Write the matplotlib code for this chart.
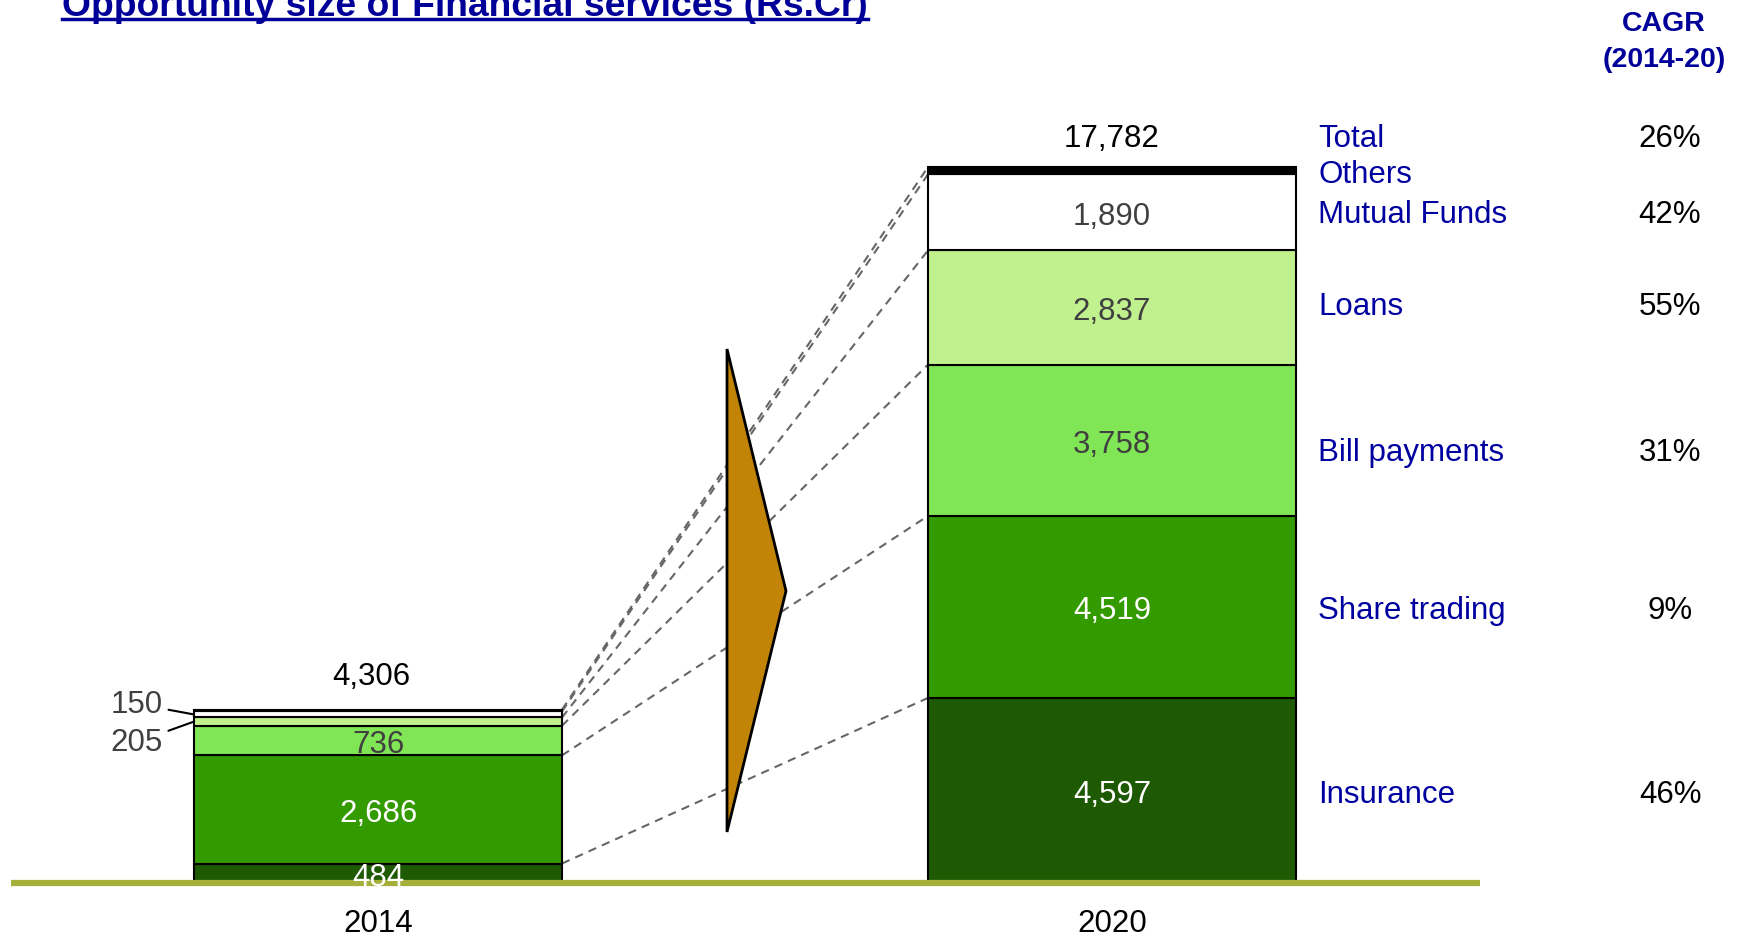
import matplotlib
matplotlib.use("Agg")
import matplotlib.pyplot as plt
import numpy as np
from matplotlib.patches import Polygon
from matplotlib.lines import Line2D

years = ["2014", "2020"]
segments = ["Insurance", "Share trading", "Bill payments", "Loans", "Mutual Funds", "Others"]
values_2014 = [484, 2686, 736, 205, 150, 45]
values_2020 = [4597, 4519, 3758, 2837, 1890, 181]
cagr = ["46%", "9%", "31%", "55%", "42%", ""]
total_cagr = "26%"

colors = ["#1E5904", "#339A00", "#80E655", "#C1F18E", "#FFFFFF", "#000000"]
label_colors = ["white", "white", "#404040", "#404040", "#404040", None]

plt.rcParams["font.family"] = ["Liberation Sans", "DejaVu Sans"]
FS = 22.5
BLUE = "#0000A0"

W, H = 1739, 937
fig = plt.figure(figsize=(W / 100, H / 100), dpi=100)
ax = fig.add_axes([0, 0, 1, 1])
ax.axis("off")

# layout: pixel geometry of the slide
base_px = 884
unit_per_px = 24.835
bar_gap_px = 734
x0_px = 378
ax.set_xlim(-x0_px / bar_gap_px, (W - x0_px) / bar_gap_px)
ax.set_ylim(-(H - base_px) * unit_per_px, base_px * unit_per_px)
width = 368 / bar_gap_px


def dx(px):
    return (px - x0_px) / bar_gap_px


def dy(py):
    return (base_px - py) * unit_per_px


xs = [0, 1]
data = [values_2014, values_2020]
cums = [np.cumsum(v) for v in data]

for x, vals in zip(xs, data):
    bottom = 0
    for v, c in zip(vals, colors):
        ax.bar(x, v, width, bottom=bottom, color=c, edgecolor="black", linewidth=1.5, zorder=3)
        bottom += v

# connector lines between stacks
for c14, c20 in zip(cums[0], cums[1]):
    ax.plot([xs[0] + width / 2, xs[1] - width / 2], [c14, c20], color="#666666",
            lw=1.5, ls=(0, (4, 3)), zorder=2)

# segment value labels
for x, vals, cum in zip(xs, data, cums):
    for i, v in enumerate(vals):
        mid = cum[i] - v / 2
        if label_colors[i] is None:
            continue
        if x == 0 and i in (3, 4):
            continue
        ax.text(x, mid, f"{v:,}", ha="center", va="center_baseline", fontsize=FS,
                color=label_colors[i], zorder=6)

# small 2014 segments labelled outside with leader lines
left_edge = xs[0] - width / 2
for i, off in ((4, (-31, 14)), (3, (-31, -17))):
    mid = cums[0][i] - values_2014[i] / 2
    ax.annotate(f"{values_2014[i]:,}", (left_edge, mid), xytext=off, textcoords="offset pixels",
                ha="right", va="center_baseline", fontsize=FS, color="#404040",
                arrowprops=dict(arrowstyle="-", color="black", lw=1.5, shrinkA=2, shrinkB=0))

# totals
for x, cum, off in zip(xs, cums, [(-7, 37), (0, 32)]):
    ax.annotate(f"{int(cum[-1]):,}", (x, cum[-1]), xytext=off, textcoords="offset pixels",
                ha="center", va="center_baseline", fontsize=FS, color="black")

# year labels
for x, yr in zip(xs, years):
    ax.annotate(yr, (x, 0), xytext=(0, -37), textcoords="offset pixels",
                ha="center", va="center_baseline", fontsize=FS, color="black")

# baseline
ax.plot([dx(11), dx(1480)], [0, 0], color="#A4B03A", lw=4.5, solid_capstyle="butt", zorder=5)

# right side legend and CAGR column
right_edge = xs[1] + width / 2
row_shift = [0, 0, -8, 5, 2, 0]
ax.annotate("Total", (right_edge, cums[1][-1]), xytext=(22, 32), textcoords="offset pixels",
            ha="left", va="center_baseline", fontsize=FS, color=BLUE)
ax.annotate(total_cagr, (right_edge, cums[1][-1]), xytext=(374, 32), textcoords="offset pixels",
            ha="center", va="center_baseline", fontsize=FS, color="black")
for i, name in enumerate(segments):
    mid = cums[1][i] - values_2020[i] / 2
    ax.annotate(name, (right_edge, mid), xytext=(22, row_shift[i]), textcoords="offset pixels",
                ha="left", va="center_baseline", fontsize=FS, color=BLUE)
    if cagr[i]:
        ax.annotate(cagr[i], (right_edge, mid), xytext=(374, row_shift[i]), textcoords="offset pixels",
                    ha="center", va="center_baseline", fontsize=FS, color="black")

# growth arrow
arrow = Polygon([(dx(727), dy(350)), (dx(786), dy(592)), (dx(727), dy(833))], closed=True,
                facecolor="#C28406", edgecolor="black", lw=2, zorder=4)
ax.add_patch(arrow)

# CAGR header
fig.text(1664 / W, 1 - 24 / H, "CAGR", ha="center", va="center", fontsize=20.5,
         fontweight="bold", color="#000099")
fig.text(1664 / W, 1 - 60 / H, "(2014-20)", ha="center", va="center", fontsize=20.5,
         fontweight="bold", color="#000099")

# title, underlined, partly cut off at the top as in the source slide
title = fig.text(62 / W, 1 - 16 / H, "Opportunity size of Financial services (Rs.Cr)",
                 ha="left", va="baseline", fontsize=26.8, fontweight="bold", color="#000099")
fig.canvas.draw()
bb = title.get_window_extent()
fig.add_artist(Line2D([bb.x0 / W, bb.x1 / W], [1 - 20 / H, 1 - 20 / H],
                      transform=fig.transFigure, color="#000099", lw=2.5))

fig.savefig("out.png", dpi=100)
plt.close(fig)
